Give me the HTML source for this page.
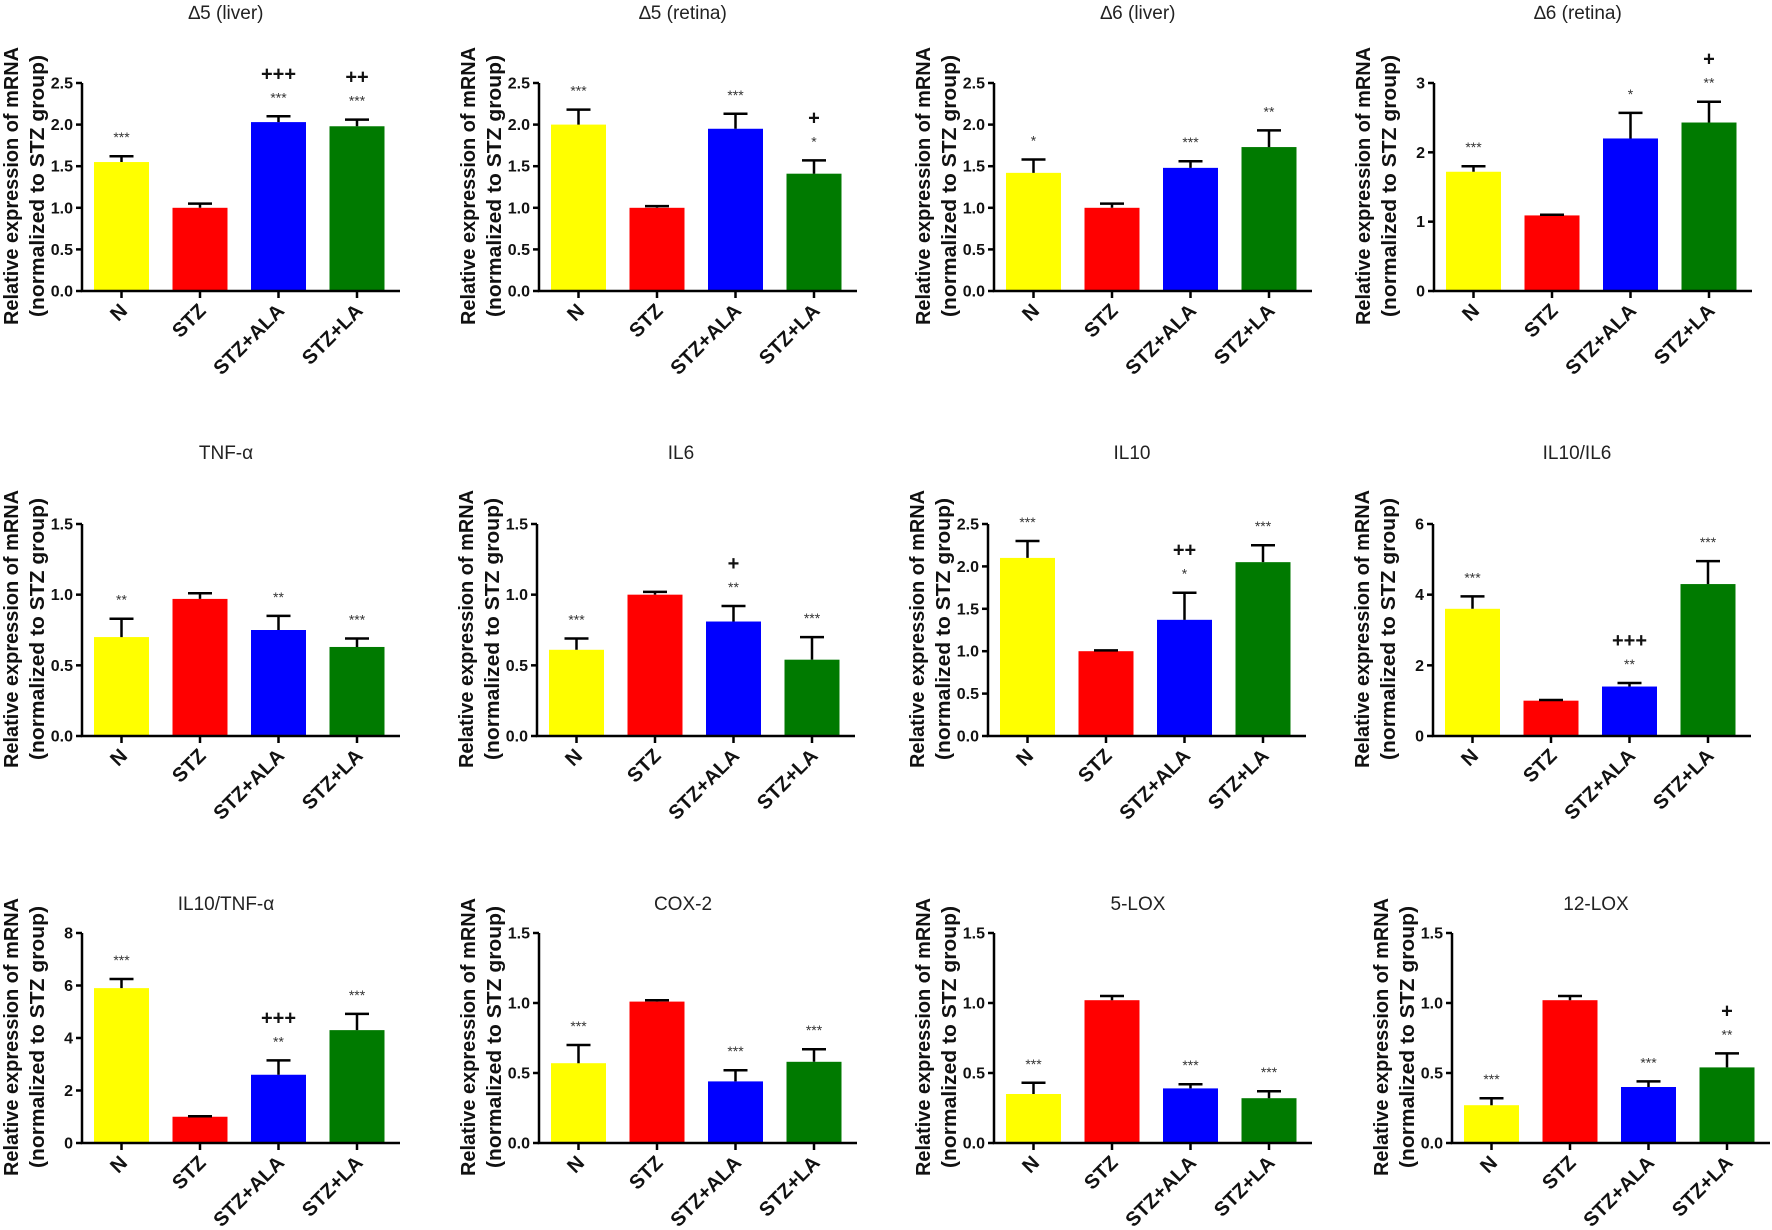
<!DOCTYPE html>
<html><head><meta charset="utf-8"><title>mRNA expression panels</title>
<style>
html,body{margin:0;padding:0;background:#fff;}
svg{display:block;}
</style></head>
<body>
<svg id="fig" width="1772" height="1230" viewBox="0 0 1772 1230" xmlns="http://www.w3.org/2000/svg" font-family="Liberation Sans, Arial, sans-serif"></svg>
<script>
const categories = ["N", "STZ", "STZ+ALA", "STZ+LA"];
const barColors = ["#ffff00", "#ff0000", "#0000ff", "#007a00"];
const titles = ["\u22065 (liver)", "\u22065 (retina)", "\u22066 (liver)", "\u22066 (retina)",
  "TNF-\u03b1", "IL6", "IL10", "IL10/IL6",
  "IL10/TNF-\u03b1", "COX-2", "5-LOX", "12-LOX"];
const yMax = [2.5, 2.5, 2.5, 3, 1.5, 1.5, 2.5, 6, 8, 1.5, 1.5, 1.5];
const yStep = [0.5, 0.5, 0.5, 1, 0.5, 0.5, 0.5, 2, 2, 0.5, 0.5, 0.5];
const decimals = [1, 1, 1, 0, 1, 1, 1, 0, 0, 1, 1, 1];
const means = [
  [1.55, 1.0, 2.03, 1.98],
  [2.0, 1.0, 1.95, 1.41],
  [1.42, 1.0, 1.48, 1.73],
  [1.72, 1.09, 2.2, 2.43],
  [0.70, 0.97, 0.75, 0.63],
  [0.61, 1.0, 0.81, 0.54],
  [2.1, 1.0, 1.37, 2.05],
  [3.6, 1.0, 1.4, 4.3],
  [5.9, 1.0, 2.6, 4.3],
  [0.57, 1.01, 0.44, 0.58],
  [0.35, 1.02, 0.39, 0.32],
  [0.27, 1.02, 0.40, 0.54]
];
const errors = [
  [0.07, 0.05, 0.07, 0.08],
  [0.18, 0.02, 0.18, 0.16],
  [0.16, 0.05, 0.08, 0.20],
  [0.08, 0.01, 0.37, 0.30],
  [0.13, 0.04, 0.10, 0.06],
  [0.08, 0.02, 0.11, 0.16],
  [0.20, 0.01, 0.32, 0.20],
  [0.35, 0.02, 0.10, 0.65],
  [0.35, 0.02, 0.55, 0.62],
  [0.13, 0.01, 0.08, 0.09],
  [0.08, 0.03, 0.03, 0.05],
  [0.05, 0.03, 0.04, 0.10]
];
const stars = [
  ["***", "", "***", "***"],
  ["***", "", "***", "*"],
  ["*", "", "***", "**"],
  ["***", "", "*", "**"],
  ["**", "", "**", "***"],
  ["***", "", "**", "***"],
  ["***", "", "*", "***"],
  ["***", "", "**", "***"],
  ["***", "", "**", "***"],
  ["***", "", "***", "***"],
  ["***", "", "***", "***"],
  ["***", "", "***", "**"]
];
const plusMarks = [
  ["", "", "+++", "++"],
  ["", "", "", "+"],
  ["", "", "", ""],
  ["", "", "", "+"],
  ["", "", "", ""],
  ["", "", "+", ""],
  ["", "", "++", ""],
  ["", "", "+++", ""],
  ["", "", "+++", ""],
  ["", "", "", ""],
  ["", "", "", ""],
  ["", "", "", "+"]
];

const NS = "http://www.w3.org/2000/svg";
const svg = document.getElementById("fig");
const axisXs = [[82, 539, 994, 1434], [82, 537, 988, 1433], [82, 539, 994, 1452]];
const zeroYs = [291, 736, 1143];
const topYs = [83, 524, 933];
const titleYs = [19, 459, 910];
const AXW = 318, BAR_OFF = 12, BAR_W = 55, PITCH = 78.5;

function mk(tag, attrs, parent) {
  const e = document.createElementNS(NS, tag);
  for (const k in attrs) e.setAttribute(k, attrs[k]);
  parent.appendChild(e);
  return e;
}

for (let p = 0; p < 12; p++) {
  const row = Math.floor(p / 4), col = p % 4;
  const ax = axisXs[row][col], y0 = zeroYs[row], yt = topYs[row];
  const yScale = v => y0 - (v / yMax[p]) * (y0 - yt);
  const xCenter = i => ax + BAR_OFF + i * PITCH + BAR_W / 2;

  const g = mk("g", {}, svg);
  
  

  const t = mk("text", {x: ax + 144, y: titleYs[row], "text-anchor": "middle", "font-size": "19", fill: "#222"}, g);
  t.textContent = titles[p];
  
  

  const cy = (y0 + yt) / 2 - 1;
  const yl = mk("text", {transform: `translate(${ax - 64},${cy}) rotate(-90)`, "text-anchor": "middle", "font-size": "20", "font-weight": "bold", fill: "#111"}, g);
  const l1 = mk("tspan", {x: 0, y: 0, textLength: 278, lengthAdjust: "spacingAndGlyphs"}, yl);
  l1.textContent = "Relative expression of mRNA";
  const l2 = mk("tspan", {x: 0, y: 26, textLength: 262, lengthAdjust: "spacingAndGlyphs"}, yl);
  l2.textContent = "(normalized to STZ group)";
  
  

  for (let i = 0; i < 4; i++) {
    const xc = xCenter(i);
    const yb = yScale(means[p][i]);
    const r = mk("rect", {x: xc - BAR_W / 2, y: yb, width: BAR_W, height: y0 - yb, fill: barColors[i]}, g);
    
    
    const ye = yScale(means[p][i] + errors[p][i]);
    const eb = mk("path", {d: `M${xc},${yb} V${ye} M${xc - 12},${ye} H${xc + 12}`, stroke: "#000", "stroke-width": "2.5", fill: "none"}, g);
    
    
    if (stars[p][i]) {
      const s = mk("text", {x: xc, y: ye - 14, "text-anchor": "middle", "font-size": "14", fill: "#333"}, g);
      s.textContent = stars[p][i];
      
      
    }
    if (plusMarks[p][i]) {
      const s2 = mk("text", {x: xc, y: ye - 36, "text-anchor": "middle", "font-size": "20", "font-weight": "bold", fill: "#111"}, g);
      s2.textContent = plusMarks[p][i];
      
      
    }
    mk("line", {x1: xc, y1: y0, x2: xc, y2: y0 + 7, stroke: "#000", "stroke-width": "2.5"}, g);
    const cl = mk("text", {transform: `translate(${xc + 7},${y0 + 21}) rotate(-45)`, "text-anchor": "end", "font-size": "20", "font-weight": "bold", fill: "#111"}, g);
    cl.textContent = categories[i];
    
    
  }

  const axes = mk("path", {d: `M${ax},${yt} V${y0} H${ax + AXW}`, stroke: "#000", "stroke-width": "2.5", fill: "none"}, g);
  
  
  const nT = Math.round(yMax[p] / yStep[p]);
  for (let k = 0; k <= nT; k++) {
    const v = k * yStep[p];
    const yy = yScale(v);
    mk("line", {x1: ax - 6, y1: yy, x2: ax, y2: yy, stroke: "#000", "stroke-width": "2.5"}, g);
    const tl = mk("text", {x: ax - 9, y: yy + 5.5, "text-anchor": "end", "font-size": "16", "font-weight": "bold", fill: "#111"}, g);
    tl.textContent = v.toFixed(decimals[p]);
    
    
  }
}
</script>
</body></html>
